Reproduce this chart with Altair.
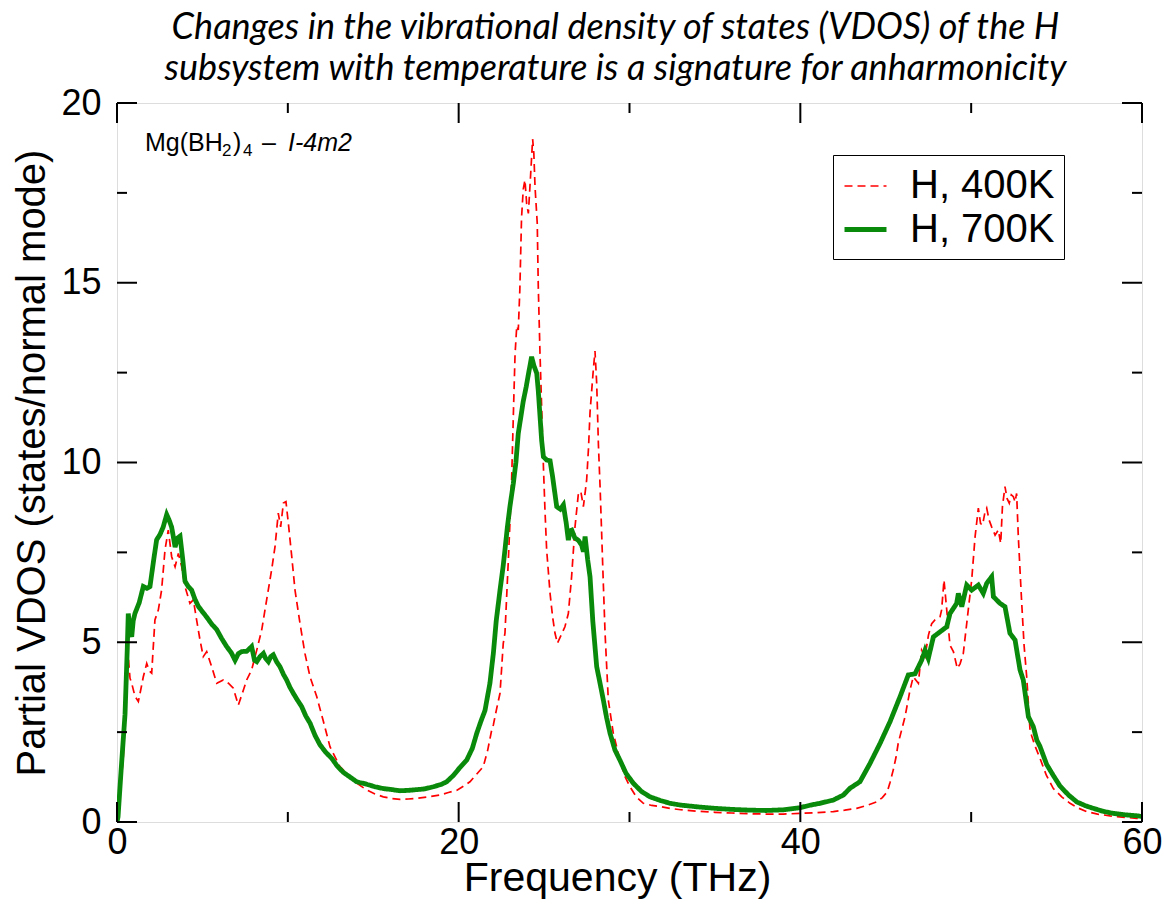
import altair as alt
import pandas as pd

# ---------------- data ----------------
freq_400 = [0.0, 0.06, 0.37, 0.57, 0.66, 0.76, 0.86, 1.05, 1.25, 1.4, 1.54, 1.74, 1.9, 2.03, 2.22, 2.42,
            2.61, 2.81, 3.0, 3.2, 3.4, 3.59, 3.79, 3.98, 4.27, 4.47, 4.66, 4.86, 5.05, 5.25, 5.54, 5.84,
            6.22, 6.52, 6.81, 7.1, 7.4, 7.59, 7.88, 8.18, 8.47, 8.76, 9.05, 9.25, 9.44, 9.58, 9.74, 9.89,
            10.03, 10.23, 10.42, 10.71, 11.0, 11.3, 11.69, 12.08, 12.47, 12.66, 13.05, 13.64, 14.03, 14.62,
            15.1, 15.59, 16.1, 16.57, 17.05, 17.54, 18.2, 18.91, 19.4, 19.88, 20.3, 20.66, 21.0, 21.44,
            21.7, 21.93, 22.03, 22.2, 22.42, 22.61, 22.71, 22.9, 23.0, 23.1, 23.2, 23.3, 23.4, 23.49,
            23.58, 23.68, 23.78, 23.88, 23.98, 24.08, 24.2, 24.33, 24.4, 24.47, 24.6, 24.66, 24.76, 24.86,
            24.96, 25.05, 25.15, 25.35, 25.5, 25.64, 25.78, 26.0, 26.22, 26.42, 26.61, 26.81, 27.0, 27.15,
            27.3, 27.49, 27.6, 27.69, 27.88, 27.98, 28.08, 28.18, 28.28, 28.37, 28.47, 28.57, 28.76, 29.05,
            29.44, 29.7, 30.03, 30.4, 30.81, 31.3, 31.79, 32.37, 33.0, 34.0, 35.0, 36.0, 37.0, 38.0, 39.0,
            40.0, 41.0, 41.93, 42.6, 43.3, 43.9, 44.47, 44.8, 45.09, 45.25, 45.44, 45.6, 45.73, 46.13,
            46.42, 46.61, 46.91, 47.1, 47.3, 47.5, 47.69, 47.88, 48.18, 48.27, 48.41, 48.57, 48.76, 48.96,
            49.19, 49.35, 49.54, 49.83, 50.03, 50.23, 50.42, 50.55, 50.67, 50.8, 50.91, 51.05, 51.2, 51.4,
            51.59, 51.73, 51.83, 51.98, 52.1, 52.23, 52.35, 52.47, 52.57, 52.66, 52.76, 52.86, 52.96, 53.1,
            53.25, 53.44, 53.54, 53.75, 54.03, 54.4, 54.81, 55.3, 55.79, 56.3, 56.76, 57.4, 58.13, 59.0,
            59.69, 60.0]
vdos_400 = [0.0, 0.14, 1.82, 3.77, 4.6, 4.0, 3.86, 3.5, 3.35, 3.7, 4.04, 4.41, 4.2, 4.14, 5.62, 5.9,
            6.45, 7.57, 8.12, 7.38, 7.1, 7.47, 7.1, 6.55, 6.08, 6.18, 5.62, 5.06, 4.6, 4.74, 4.32, 3.86,
            3.95, 3.86, 3.72, 3.25, 3.67, 3.95, 4.23, 4.78, 5.34, 6.18, 7.01, 7.66, 8.59, 8.21, 8.87, 8.91,
            8.31, 7.38, 6.45, 5.53, 4.69, 4.04, 3.49, 2.8, 2.09, 1.91, 1.54, 1.26, 1.08, 0.89,
            0.78, 0.70, 0.65, 0.63, 0.64, 0.66, 0.70, 0.75, 0.82, 0.88, 1.0, 1.12, 1.3, 1.54,
            2.0, 2.55, 2.7, 3.1, 3.58, 4.97, 5.25, 7.2, 8.3, 9.5, 11.3, 13.0, 13.8, 13.69,
            14.8, 16.8, 17.6, 17.86, 17.2, 16.93, 17.9, 19.0, 18.6, 17.67, 16.65, 14.9, 13.04, 11.5,
            9.9, 8.7, 7.57, 6.36, 5.7, 5.25, 4.97, 5.2, 5.43, 5.8, 6.82, 8.21, 9.1, 9.2,
            8.77, 9.5, 10.4, 11.4, 12.57, 13.1, 12.2, 10.5, 9.3, 8.03, 6.6, 5.25, 3.39, 2.47,
            1.72, 1.3, 0.98, 0.7, 0.52, 0.46, 0.43, 0.38, 0.34, 0.30, 0.27, 0.25, 0.23, 0.22, 0.22,
            0.24, 0.26, 0.29, 0.33, 0.38, 0.46, 0.56, 0.68, 0.84, 1.1, 1.45, 1.8, 2.19, 2.93,
            3.67, 4.04, 3.86, 4.78, 4.6, 5.2, 5.52, 5.62, 5.71, 5.9, 6.73, 5.9, 4.92, 4.74,
            4.27, 4.4, 4.69, 5.9, 6.73, 7.94, 8.73, 8.3, 8.26, 8.6, 8.73, 8.4, 8.21, 7.98,
            8.12, 7.75, 8.77, 9.33, 9.0, 8.87, 9.1, 9.05, 8.9, 9.14, 7.94, 7.0, 6.08, 4.9,
            4.04, 2.6, 2.4, 2.1, 1.77, 1.3, 0.93, 0.7, 0.52, 0.38, 0.29, 0.22, 0.17, 0.13,
            0.10, 0.09]

freq_700 = [0.0, 0.06, 0.25, 0.47, 0.6, 0.66, 0.76, 0.86, 0.95, 1.05, 1.3, 1.54, 1.75, 1.93, 2.15, 2.32,
            2.52, 2.7, 2.91, 3.05, 3.2, 3.4, 3.55, 3.69, 3.85, 3.98, 4.17, 4.37, 4.56, 4.76, 5.0, 5.25,
            5.55, 5.84, 6.13, 6.42, 6.7, 6.91, 7.1, 7.3, 7.6, 7.88, 8.05, 8.18, 8.37, 8.57, 8.7, 8.86,
            9.0, 9.15, 9.35, 9.54, 9.75, 9.93, 10.12, 10.32, 10.55, 10.81, 11.05, 11.3, 11.6, 11.88,
            12.2, 12.57, 12.9, 13.25, 13.64, 14.03, 14.62, 15.1, 15.59, 16.1, 16.57, 17.05, 17.54, 18.0,
            18.52, 19.0, 19.3, 19.7, 20.08, 20.47, 20.8, 21.06, 21.3, 21.54, 21.83, 22.03, 22.2, 22.42,
            22.6, 22.71, 22.85, 23.0, 23.2, 23.35, 23.49, 23.65, 23.78, 23.95, 24.1, 24.27, 24.4, 24.57,
            24.66, 24.76, 24.86, 24.96, 25.15, 25.35, 25.5, 25.74, 25.95, 26.13, 26.3, 26.42, 26.52, 26.62,
            26.8, 27.0, 27.2, 27.3, 27.4, 27.55, 27.69, 27.85, 28.08, 28.3, 28.47, 28.66, 28.86, 29.15,
            29.44, 29.8, 30.22, 30.7, 31.2, 31.8, 32.37, 33.0, 34.0, 35.0, 36.0, 37.0, 38.0, 39.0,
            40.0, 40.6, 41.15, 41.93, 42.52, 42.91, 43.49, 44.08, 44.67, 45.25, 45.84, 46.32, 46.71, 47.1,
            47.3, 47.49, 47.79, 48.18, 48.57, 48.76, 49.15, 49.25, 49.45, 49.74, 50.03, 50.42, 50.71, 50.91,
            51.2, 51.3, 51.69, 51.98, 52.27, 52.57, 52.86, 53.05, 53.35, 53.64, 53.84, 54.03, 54.42, 54.8,
            55.2, 55.7, 56.18, 56.7, 57.15, 57.7, 58.32, 59.0, 59.78, 60.0]
vdos_700 = [0.0, 0.14, 1.5, 3.0, 4.8, 5.8, 5.3, 5.15, 5.6, 5.8, 6.1, 6.55, 6.5, 6.55, 7.3, 7.85,
            8.0, 8.2, 8.55, 8.4, 8.2, 7.65, 7.9, 7.95, 7.3, 6.7, 6.55, 6.45, 6.2, 6.0, 5.85, 5.7,
            5.5, 5.35, 5.1, 4.88, 4.7, 4.5, 4.68, 4.74, 4.75, 4.88, 4.5, 4.46, 4.6, 4.69, 4.55, 4.46,
            4.6, 4.65, 4.45, 4.32, 4.1, 3.95, 3.75, 3.58, 3.4, 3.21, 2.95, 2.75, 2.4, 2.15,
            1.95, 1.77, 1.55, 1.38, 1.25, 1.12, 1.05, 0.98, 0.93, 0.90, 0.87, 0.88, 0.90, 0.92,
            0.98, 1.05, 1.12, 1.3, 1.52, 1.72, 2.05, 2.47, 2.8, 3.1, 3.86, 4.69, 5.6, 6.45,
            7.1, 7.57, 8.2, 8.77, 9.42, 10.0, 10.81, 11.3, 11.7, 12.1, 12.5, 12.94, 12.7, 12.48,
            12.0, 11.3, 10.6, 10.16, 10.07, 10.05, 9.6, 8.77, 8.7, 8.82, 8.3, 7.84, 8.1, 8.12,
            7.9, 7.84, 7.7, 7.52, 7.94, 7.3, 6.82, 5.6, 4.32, 3.8, 3.39, 2.9, 2.47, 2.0,
            1.72, 1.35, 1.08, 0.85, 0.70, 0.60, 0.52, 0.47, 0.42, 0.38, 0.35, 0.33, 0.32, 0.34,
            0.40, 0.47, 0.52, 0.61, 0.75, 0.94, 1.12, 1.63, 2.19, 2.79, 3.49, 4.09, 4.12, 4.5,
            4.78, 4.55, 5.15, 5.29, 5.43, 5.8, 6.08, 6.36, 5.99, 6.59, 6.45, 6.59, 6.36, 6.64,
            6.82, 6.27, 6.08, 5.99, 5.25, 5.06, 4.23, 3.95, 2.93, 2.65, 2.28, 2.1, 1.6, 1.3,
            1.0, 0.75, 0.56, 0.45, 0.38, 0.30, 0.24, 0.20, 0.17, 0.15]

series_names = ["H, 400K", "H, 700K"]
x_major = [0, 20, 40, 60]
x_minor = [10, 30, 50]
y_major = [0, 5, 10, 15, 20]
y_minor = [2.5, 7.5, 12.5, 17.5]

title_lines = ["Changes in the vibrational density of states (VDOS) of the H",
               "subsystem with temperature is a signature for anharmonicity"]

# ---------------- tables ----------------
df = pd.concat([
    pd.DataFrame({"freq": freq_400, "vdos": vdos_400, "series": series_names[0]}),
    pd.DataFrame({"freq": freq_700, "vdos": vdos_700, "series": series_names[1]}),
], ignore_index=True)

W, H = 1025, 719
AX_FONT = "Liberation Sans"
xs = alt.Scale(domain=[0, 60], nice=False, zero=False)
ys = alt.Scale(domain=[0, 20], nice=False, zero=False)

x_axis = alt.Axis(title="Frequency (THz)", values=x_major, ticks=False, domain=False, grid=False,
                  labelFlush=False, labelFont=AX_FONT, labelFontSize=36, labelColor="black",
                  labelPadding=3, titleFont=AX_FONT, titleFontSize=41, titleFontWeight="normal",
                  titleColor="black", titlePadding=-2, titleX=500)
y_axis = alt.Axis(title="Partial VDOS (states/normal mode)", values=y_major, ticks=False, domain=False,
                  grid=False, labelFlush=False, labelFont=AX_FONT, labelFontSize=36,
                  labelColor="black", labelPadding=16, titleFont=AX_FONT, titleFontSize=40,
                  titleFontWeight="normal", titleColor="black", titlePadding=8)
X_ENC = alt.X("freq:Q", scale=xs, axis=x_axis)
Y_ENC = alt.Y("vdos:Q", scale=ys, axis=y_axis)

leg = dict(title=None, orient="none", legendX=716, legendY=52)

lines = alt.Chart(df).mark_line(clip=True).encode(
    x=X_ENC,
    y=Y_ENC,
    color=alt.Color("series:N", scale=alt.Scale(domain=series_names, range=["#ff0000", "#0a8a0a"]),
                    legend=alt.Legend(
                        symbolType="stroke", symbolSize=1764, labelFont=AX_FONT,
                        labelFontSize=40, labelColor="black", labelOffset=21,
                        labelLimit=400, rowPadding=0, padding=9,
                        strokeColor="black", fillColor="white", cornerRadius=0, **leg)),
    strokeDash=alt.StrokeDash("series:N", scale=alt.Scale(domain=series_names, range=[[8, 5], [1, 0]]),
                              legend=alt.Legend(**leg)),
    strokeWidth=alt.StrokeWidth("series:N", scale=alt.Scale(domain=series_names, range=[1.7, 4.8]),
                                legend=alt.Legend(**leg)),
)

# inward tick marks on all four sides (drawn through the shared scales)
ticks = []
for vals, ln in ((x_major, 20), (x_minor, 10)):
    d = pd.DataFrame({"freq": vals})
    ticks.append(alt.Chart(d).mark_rule(color="black", strokeWidth=2).encode(
        x=X_ENC, y=alt.value(H), y2=alt.value(H - ln)))
    ticks.append(alt.Chart(d).mark_rule(color="black", strokeWidth=2).encode(
        x=X_ENC, y=alt.value(0), y2=alt.value(ln)))
for vals, ln in ((y_major, 20), (y_minor, 10)):
    d = pd.DataFrame({"vdos": vals})
    ticks.append(alt.Chart(d).mark_rule(color="black", strokeWidth=2).encode(
        y=Y_ENC, x=alt.value(0), x2=alt.value(ln)))
    ticks.append(alt.Chart(d).mark_rule(color="black", strokeWidth=2).encode(
        y=Y_ENC, x=alt.value(W), x2=alt.value(W - ln)))

# annotation "Mg(BH2)4 – I-4m2"
base_txt = alt.Chart(pd.DataFrame({"a": [0]}))
def txt(s, x, y, size=25, style="normal"):
    return base_txt.mark_text(text=s, font=AX_FONT, fontSize=size, fontStyle=style,
                              align="left", baseline="middle", color="black").encode(
        x=alt.value(x), y=alt.value(y))

annot = [
    txt("Mg(BH", 28, 40),
    txt("2", 105, 48, size=17),
    txt(")", 116, 40),
    txt("4", 126, 48, size=17),
    txt("\u2013", 145, 40),
    txt("I-4m2", 171, 40, style="italic"),
]

chart = alt.layer(lines, *ticks, *annot).properties(
    width=W, height=H,
    title=alt.TitleParams(text=title_lines, font="Lato", fontStyle="italic", fontWeight="normal",
                          fontSize=36, lineHeight=41, anchor="middle", dx=-14, offset=-3,
                          color="black"),
    autosize=alt.AutoSizeParams(type="none"),
    padding={"left": 117, "top": 103, "right": 22, "bottom": 87},
).configure_view(stroke="black", strokeWidth=2).configure(background="white")

chart.save("out.html", embed_options={"renderer": "svg", "actions": False})
